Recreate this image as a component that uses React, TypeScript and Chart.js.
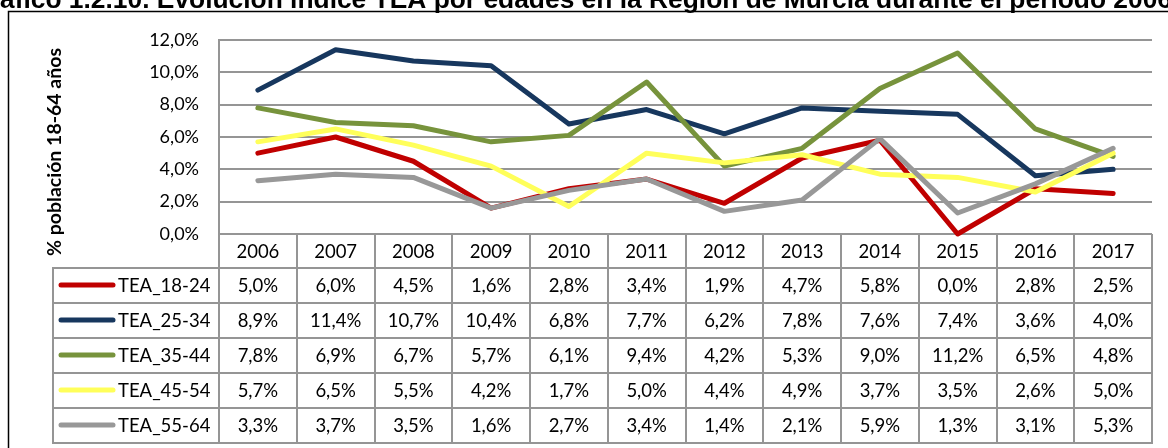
import React, { useEffect, useRef } from "react";
import { Chart, registerables } from "chart.js";

Chart.register(...registerables);

const TITLE = "Gráfico 1.2.10. Evolución índice TEA por edades en la Región de Murcia durante el periodo 2006-2017";
const Y_TITLE = "% población 18-64 años";
const YEARS = ["2006", "2007", "2008", "2009", "2010", "2011", "2012", "2013", "2014", "2015", "2016", "2017"];
const SERIES_NAMES = ["TEA_18-24", "TEA_25-34", "TEA_35-44", "TEA_45-54", "TEA_55-64"];
const TEA_18_24 = [5.0, 6.0, 4.5, 1.6, 2.8, 3.4, 1.9, 4.7, 5.8, 0.0, 2.8, 2.5];
const TEA_25_34 = [8.9, 11.4, 10.7, 10.4, 6.8, 7.7, 6.2, 7.8, 7.6, 7.4, 3.6, 4.0];
const TEA_35_44 = [7.8, 6.9, 6.7, 5.7, 6.1, 9.4, 4.2, 5.3, 9.0, 11.2, 6.5, 4.8];
const TEA_45_54 = [5.7, 6.5, 5.5, 4.2, 1.7, 5.0, 4.4, 4.9, 3.7, 3.5, 2.6, 5.0];
const TEA_55_64 = [3.3, 3.7, 3.5, 1.6, 2.7, 3.4, 1.4, 2.1, 5.9, 1.3, 3.1, 5.3];
const SERIES_VALUES = [TEA_18_24, TEA_25_34, TEA_35_44, TEA_45_54, TEA_55_64];
const COLORS = ["#C00000", "#17375E", "#77933C", "#FFFF5A", "#989898"];

const FONT = "Lato, 'Open Sans', sans-serif";
const GRID = "#959595";

const fmt = (v: number) => v.toFixed(1).replace(".", ",") + "%";

const tablePlugin = {
  id: "tablePlugin",
  beforeDatasetsDraw(chart: any) {
    const ctx = chart.ctx as CanvasRenderingContext2D;
    const area = chart.chartArea;
    const xs = chart.scales.x;
    const n = YEARS.length;
    const colW = (area.right - area.left) / n;
    const headerTop = area.bottom;
    const headerBottom = headerTop + 33.5;
    const rowH = 35;
    const legendLeft = 53;
    const tableBottom = headerBottom + rowH * SERIES_NAMES.length;
    ctx.save();
    ctx.strokeStyle = GRID;
    ctx.lineWidth = 2;
    for (let i = 0; i <= n; i++) {
      const x = Math.round(area.left + i * colW);
      ctx.beginPath();
      ctx.moveTo(x, headerTop);
      ctx.lineTo(x, tableBottom);
      ctx.stroke();
    }
    ctx.beginPath();
    ctx.moveTo(legendLeft, headerBottom);
    ctx.lineTo(legendLeft, tableBottom);
    ctx.stroke();
    for (let r = 0; r <= SERIES_NAMES.length; r++) {
      const y = Math.round(headerBottom + r * rowH);
      ctx.beginPath();
      ctx.moveTo(legendLeft - 1, y);
      ctx.lineTo(area.right + 1, y);
      ctx.stroke();
    }
    ctx.fillStyle = "#000";
    ctx.font = `18.5px ${FONT}`;
    ctx.textAlign = "center";
    ctx.textBaseline = "middle";
    YEARS.forEach((yr, i) => {
      ctx.fillText(yr, xs.getPixelForValue(i), (headerTop + headerBottom) / 2 + 1);
    });
    SERIES_NAMES.forEach((name, r) => {
      const cy = headerBottom + r * rowH + rowH / 2 + 1;
      ctx.save();
      ctx.strokeStyle = COLORS[r];
      ctx.lineWidth = 5;
      ctx.lineCap = "round";
      ctx.beginPath();
      ctx.moveTo(61, cy - 1);
      ctx.lineTo(113, cy - 1);
      ctx.stroke();
      ctx.restore();
      ctx.textAlign = "left";
      ctx.fillText(name, 118, cy);
      ctx.textAlign = "center";
      SERIES_VALUES[r].forEach((v, i) => {
        ctx.fillText(fmt(v), xs.getPixelForValue(i), cy);
      });
    });
    ctx.restore();
  },
  afterDraw(chart: any) {
    const ctx = chart.ctx as CanvasRenderingContext2D;
    ctx.save();
    ctx.strokeStyle = "#000";
    ctx.lineWidth = 1.5;
    ctx.beginPath();
    ctx.moveTo(8.5, 460);
    ctx.lineTo(8.5, 11.5);
    ctx.lineTo(1180, 11.5);
    ctx.stroke();
    ctx.fillStyle = "#000";
    ctx.font = "bold 25px 'Liberation Sans', Arial, sans-serif";
    ctx.textAlign = "left";
    ctx.textBaseline = "alphabetic";
    const pre = ctx.measureText("Gr").width;
    const vis = ctx.measureText("áfico 1.2.10. Evolución índice TEA por edades en la Región de Murcia durante el periodo 2006").width;
    const sx = 1172 / vis;
    ctx.translate(0, 8);
    ctx.scale(sx, 1);
    ctx.fillText(TITLE, -pre, 0);
    ctx.restore();
    ctx.save();
    ctx.fillStyle = "#000";
    ctx.font = `bold 19.5px ${FONT}`;
    ctx.textAlign = "center";
    ctx.textBaseline = "middle";
    ctx.translate(55, 152);
    ctx.rotate(-Math.PI / 2);
    ctx.fillText(Y_TITLE, 0, 0);
    ctx.restore();
  },
};

export default function App() {
  const ref = useRef<HTMLCanvasElement | null>(null);
  useEffect(() => {
    if (!ref.current) return;
    const chart = new Chart(ref.current, {
      type: "line",
      data: {
        labels: YEARS,
        datasets: SERIES_NAMES.map((name, i) => ({
          label: name,
          data: SERIES_VALUES[i],
          borderColor: COLORS[i],
          backgroundColor: COLORS[i],
          borderWidth: 5,
          borderCapStyle: "round" as const,
          borderJoinStyle: "round" as const,
          pointRadius: 0,
          tension: 0,
          clip: false as any,
          order: SERIES_NAMES.length - i,
        })),
      },
      options: {
        responsive: false,
        animation: false,
        layout: { padding: { top: 40, right: 16, bottom: 214, left: 0 } },
        plugins: { legend: { display: false }, tooltip: { enabled: false }, title: { display: false } },
        scales: {
          x: { display: false, offset: true },
          y: {
            min: 0,
            max: 12,
            afterFit: (s: any) => {
              s.width = 219;
            },
            ticks: {
              stepSize: 2,
              padding: 20,
              color: "#000",
              font: { family: FONT, size: 18 },
              callback: (v: any) => fmt(Number(v)),
            },
            grid: { color: GRID, lineWidth: 2, drawTicks: false },
            border: { display: true, color: GRID, width: 2 },
          },
        },
      },
      plugins: [tablePlugin],
    });
    return () => chart.destroy();
  }, []);
  return (
    <div style={{ position: "absolute", left: 0, top: 0, width: 1168, height: 448, background: "#fff" }}>
      <canvas ref={ref} width={1168} height={448} />
    </div>
  );
}
